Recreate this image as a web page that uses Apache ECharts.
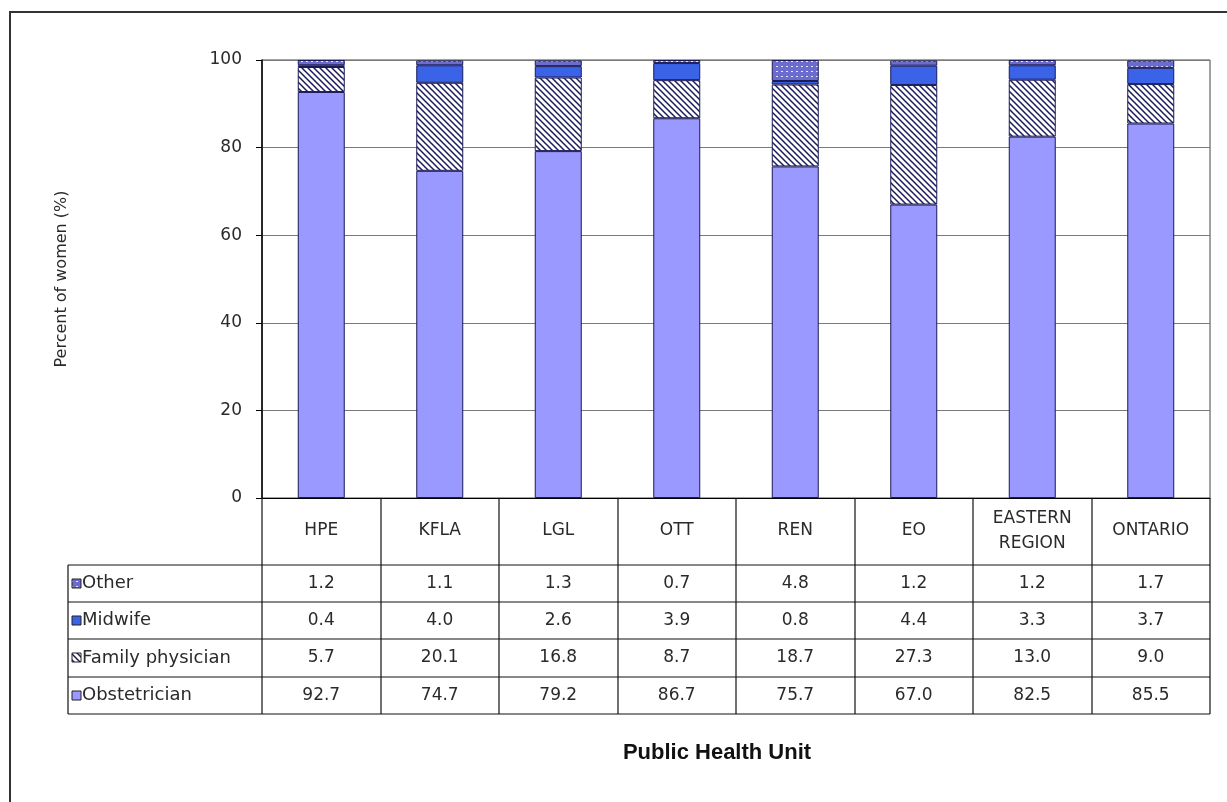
<!DOCTYPE html>
<html>
<head>
<meta charset="utf-8">
<script src="https://cdn.jsdelivr.net/npm/echarts@6/dist/echarts.min.js"></script>
<style>
html,body{margin:0;padding:0;background:#fff;}
#chart{width:1227px;height:802px;}
</style>
</head>
<body>
<div id="chart"></div>
<script>
// ---- data ----
var categories = ['HPE', 'KFLA', 'LGL', 'OTT', 'REN', 'EO', 'EASTERN\nREGION', 'ONTARIO'];
var obstetrician = [92.7, 74.7, 79.2, 86.7, 75.7, 67.0, 82.5, 85.5];
var familyPhysician = [5.7, 20.1, 16.8, 8.7, 18.7, 27.3, 13.0, 9.0];
var midwife = [0.4, 4.0, 2.6, 3.9, 0.8, 4.4, 3.3, 3.7];
var other = [1.2, 1.1, 1.3, 0.7, 4.8, 1.2, 1.2, 1.7];
var yTicks = [0, 20, 40, 60, 80, 100];
var tableRows = [
  {name: 'Other', values: other},
  {name: 'Midwife', values: midwife},
  {name: 'Family physician', values: familyPhysician},
  {name: 'Obstetrician', values: obstetrician}
];

// ---- layout / style ----
var FONT = 'DejaVu Sans';
var TXT = '#2a2a2a';
var G = {left: 262, right: 17, top: 60, bottom: 304};
var W = 1227, H = 802;
var plotR = W - G.right, plotB = H - G.bottom;
var rowBounds = [565, 602, 639, 677, 714];
var tableL = 68;

function hatchPattern() {
  var c = document.createElement('canvas');
  c.width = 6; c.height = 6;
  var x = c.getContext('2d');
  x.fillStyle = '#ffffff'; x.fillRect(0, 0, 6, 6);
  x.strokeStyle = '#1c1c5c'; x.lineWidth = 1.5;
  x.beginPath();
  x.moveTo(-1, -1); x.lineTo(7, 7);
  x.moveTo(-1, 5); x.lineTo(1, 7);
  x.moveTo(5, -1); x.lineTo(7, 1);
  x.stroke();
  return c;
}
function dotPattern() {
  var c = document.createElement('canvas');
  c.width = 5; c.height = 5;
  var x = c.getContext('2d');
  x.fillStyle = '#6c6cce'; x.fillRect(0, 0, 5, 5);
  x.fillStyle = '#e6e6ff'; x.fillRect(1, 1, 2, 1);
  return c;
}
var hatch = hatchPattern(), dots = dotPattern();
var colObst = '#9999ff', colMid = '#3b63e8';
var fillOther = {image: dots, repeat: 'repeat'};
var fillFam = {image: hatch, repeat: 'repeat'};
var borderCol = '#1a1a55';

var seriesDefs = [
  {name: 'Obstetrician', data: obstetrician, color: colObst},
  {name: 'Family physician', data: familyPhysician, color: fillFam},
  {name: 'Midwife', data: midwife, color: colMid},
  {name: 'Other', data: other, color: fillOther}
];
var iconFill = {'Other': fillOther, 'Midwife': colMid, 'Family physician': fillFam, 'Obstetrician': colObst};

var series = seriesDefs.map(function (s) {
  return {
    name: s.name, type: 'bar', stack: 'total', data: s.data,
    barWidth: 47,
    itemStyle: {color: s.color, borderColor: borderCol, borderWidth: 1},
    emphasis: {disabled: true},
    animation: false
  };
});

// extra x axes = table rows (values)
var xAxes = [{
  type: 'category', data: categories, position: 'bottom', gridIndex: 0,
  axisLine: {show: true, lineStyle: {color: '#000', width: 1}},
  axisTick: {show: false},
  axisLabel: {interval: 0, margin: 33, verticalAlign: 'middle', lineHeight: 25,
    fontFamily: FONT, fontSize: 17, color: TXT}
}];
tableRows.forEach(function (r, i) {
  var cy = (rowBounds[i] + rowBounds[i + 1]) / 2;
  xAxes.push({
    type: 'category', gridIndex: 0, position: 'bottom', offset: cy - plotB,
    data: r.values.map(function (v) { return v.toFixed(1); }),
    axisLine: {show: false}, axisTick: {show: false}, splitLine: {show: false},
    axisLabel: {interval: 0, margin: 0, verticalAlign: 'middle',
      fontFamily: FONT, fontSize: 17, color: TXT}
  });
});

// table lines & legend-cells
var graphics = [];
function line(x1, y1, x2, y2, w) {
  graphics.push({type: 'line', silent: true, z: 10,
    shape: {x1: x1, y1: y1, x2: x2, y2: y2},
    style: {stroke: '#111', lineWidth: w || 1.2}});
}
var colW = (plotR - G.left) / categories.length;
for (var k = 0; k <= categories.length; k++) {
  var x = Math.round(G.left + k * colW);
  line(x, plotB, x, rowBounds[rowBounds.length - 1]);
}
rowBounds.forEach(function (y) { line(tableL, y, plotR, y); });
line(tableL, rowBounds[0], tableL, rowBounds[rowBounds.length - 1]);
tableRows.forEach(function (r, i) {
  var cy = (rowBounds[i] + rowBounds[i + 1]) / 2;
  graphics.push({type: 'rect', silent: true, z: 10,
    shape: {x: 72, y: Math.round(cy - 5), width: 9, height: 9},
    style: {fill: iconFill[r.name], stroke: '#222', lineWidth: 1}});
  graphics.push({type: 'text', silent: true, z: 10, x: 82, y: cy,
    style: {text: r.name, fontFamily: FONT, fontSize: 18, fill: TXT,
      verticalAlign: 'middle', align: 'left'}});
});
// outer chart border
graphics.push({type: 'rect', silent: true, z: 0,
  shape: {x: 10, y: 12, width: 1240, height: 820},
  style: {fill: 'none', stroke: '#333', lineWidth: 2}});
// x axis title
graphics.push({type: 'text', silent: true, z: 10, x: 717, y: 753,
  style: {text: 'Public Health Unit', fontFamily: 'Liberation Sans', fontWeight: 'bold',
    fontSize: 22, fill: '#111', align: 'center', verticalAlign: 'middle'}});

var chart = echarts.init(document.getElementById('chart'), null, {renderer: 'canvas'});
chart.setOption({
  backgroundColor: '#ffffff',
  animation: false,
  grid: {left: G.left, right: G.right, top: G.top, bottom: G.bottom, containLabel: false,
    show: true, borderColor: '#444', borderWidth: 1, backgroundColor: 'transparent'},
  xAxis: xAxes,
  yAxis: {
    type: 'value', min: yTicks[0], max: yTicks[yTicks.length - 1], interval: 20,
    name: 'Percent of women (%)', nameLocation: 'middle', nameGap: 192, nameRotate: 90,
    nameTextStyle: {fontFamily: FONT, fontSize: 16, color: TXT},
    axisLine: {show: true, lineStyle: {color: '#000', width: 1.5}},
    axisTick: {show: true, inside: false, length: 6, lineStyle: {color: '#000'}},
    axisLabel: {margin: 20, fontFamily: FONT, fontSize: 17, color: TXT},
    splitLine: {show: true, lineStyle: {color: '#7a7a7a', width: 1}}
  },
  series: series,
  graphic: graphics
});
</script>
</body>
</html>
